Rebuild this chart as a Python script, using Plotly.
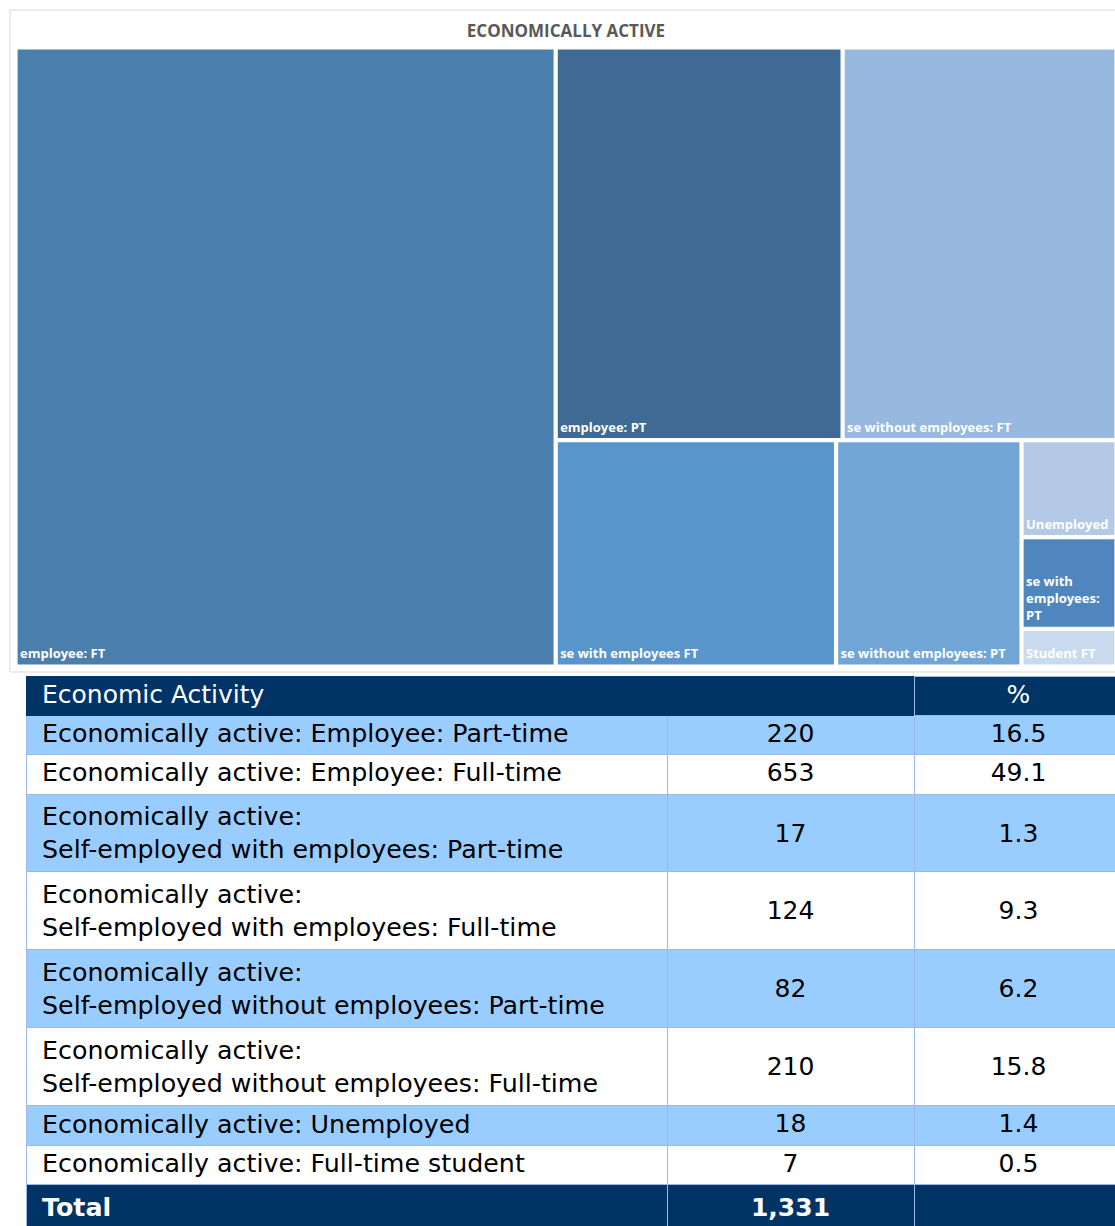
import plotly.graph_objects as go

# treemap data (short labels as shown on tiles)
tile_labels = ["employee: FT", "employee: PT", "se without employees: FT",
               "se with employees FT", "se without employees: PT",
               "Unemployed", "se with<br>employees:<br>PT", "Student FT"]
tile_values = [653, 220, 210, 124, 82, 18, 17, 7]
tile_colors = ["#4A7EAD", "#3E6A94", "#97B9DF", "#5895CB",
               "#70A5D6", "#B3C9E5", "#4F86BE", "#CADAEE"]

# table data
activity = ["Economically active: Employee: Part-time",
            "Economically active: Employee: Full-time",
            "Economically active:<br>Self-employed with employees: Part-time",
            "Economically active:<br>Self-employed with employees: Full-time",
            "Economically active:<br>Self-employed without employees: Part-time",
            "Economically active:<br>Self-employed without employees: Full-time",
            "Economically active: Unemployed",
            "Economically active: Full-time student"]
counts = [220, 653, 17, 124, 82, 210, 18, 7]
percent = [16.5, 49.1, 1.3, 9.3, 6.2, 15.8, 1.4, 0.5]

NAVY = "#003366"
LIGHT = "#99CCFF"
GRID = "#9DB9E6"
FONT = "Open Sans"
TFONT = "DejaVu Sans"
TSIZE = 25

W, H = 1115, 1226


def px(x):
    return x / W


def py(y):
    return 1 - y / H


fig = go.Figure()

fig.add_trace(go.Treemap(
    labels=tile_labels,
    parents=[""] * len(tile_labels),
    values=tile_values,
    marker=dict(colors=tile_colors, line=dict(color="white", width=1.2),
                pad=dict(t=0, l=0, r=0, b=0)),
    textinfo="label",
    textposition="bottom left",
    textfont=dict(family=FONT, size=13, color="white", weight="bold"),
    pathbar=dict(visible=False),
    tiling=dict(packing="squarify"),
    domain=dict(x=[px(17), 1.0], y=[py(665), py(49)]),
    hoverinfo="label+value",
))

# a small invisible first line centres a single value in the two-line rows
SPACER = "<span style='font-size:8px;color:rgba(0,0,0,0)'>.</span><br>"


def num(v, two_lines, nudge=""):
    v = nudge + v
    return SPACER + v if two_lines else v


total = sum(counts)
two = ["<br>" in a for a in activity]
col1 = ["\u00a0" + a.replace("<br>", "<br>\u00a0") for a in activity] + ["\u00a0<b>Total</b>"]
col2 = [num(str(c), t) for c, t in zip(counts, two)] + ["<b>{:,}</b>".format(total)]
col3 = [num("{:.1f}".format(p), t, "\u00a0") for p, t in zip(percent, two)] + [""]
row_fill = [LIGHT if i % 2 == 0 else "white" for i in range(len(activity))] + [NAVY]
row_font = ["black"] * len(activity) + ["white"]

fig.add_trace(go.Table(
    domain=dict(x=[px(26), 1.0], y=[0, py(676)]),
    columnwidth=[641, 247, 201],
    header=dict(
        values=["\u00a0Economic Activity", "", "\u00a0%"],
        fill=dict(color=NAVY),
        line=dict(color=[NAVY, NAVY, GRID], width=1),
        font=dict(family=TFONT, size=TSIZE, color="white"),
        align=["left", "center", "center"],
        height=39,
    ),
    cells=dict(
        values=[col1, col2, col3],
        fill=dict(color=[row_fill, row_fill, row_fill]),
        line=dict(color=GRID, width=1),
        font=dict(family=TFONT, size=[25.3, TSIZE, TSIZE],
                  color=[row_font, row_font, row_font]),
        align=["left", "center", "center"],
        height=39.5,
    ),
))

fig.add_shape(type="rect", xref="paper", yref="paper",
              x0=px(10), x1=1.02, y0=py(672), y1=py(10),
              line=dict(color="#D9D9D9", width=1), layer="below")

fig.update_layout(
    width=W, height=H,
    margin=dict(l=0, r=0, t=0, b=0),
    paper_bgcolor="white",
    title=dict(text="ECONOMICALLY ACTIVE", x=px(566), y=py(31),
               xanchor="center", yanchor="middle",
               font=dict(family=FONT, size=17, color="#595959", weight="bold")),
)

# drop the page's default 8px body margin so the figure sits at the corner
fig.write_html("out.html", config={"displayModeBar": False},
               post_script="document.body.style.margin='0';")
